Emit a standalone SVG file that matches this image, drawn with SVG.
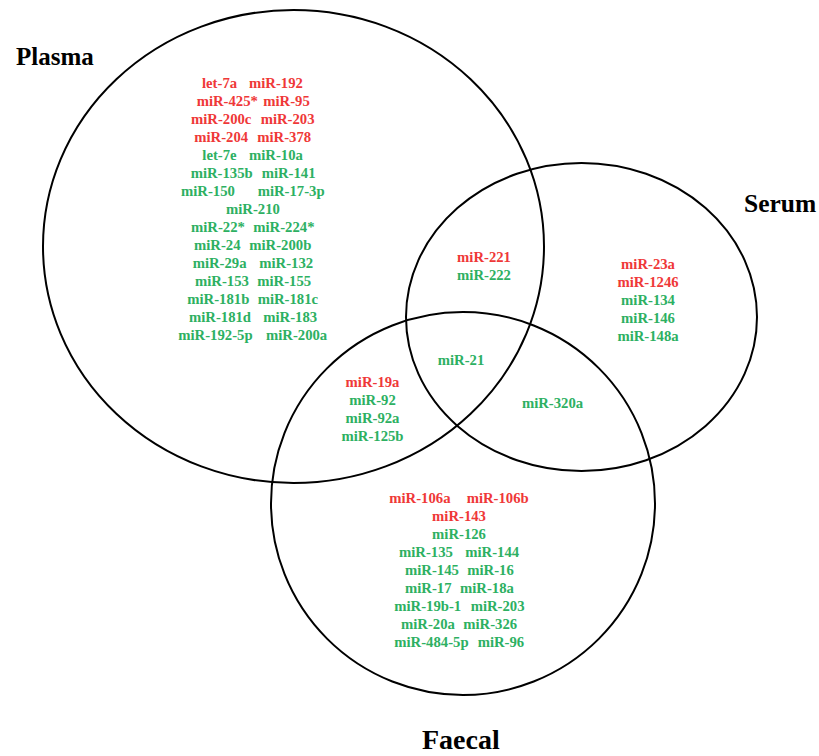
<svg xmlns="http://www.w3.org/2000/svg" width="819" height="756" viewBox="0 0 819 756">
<style>
.set{fill:none;stroke:#000;stroke-width:2}
.title{font-family:"Liberation Serif","Times New Roman",serif;font-weight:bold;fill:#000}
.t{font-family:"Liberation Serif","Times New Roman",serif;font-weight:bold;font-size:14.7px}
.r{fill:#EF3838}
.g{fill:#2DB062}
.m{text-anchor:middle}
</style>
<rect width="819" height="756" fill="#fff"/>
<g id="plasma">
<ellipse class="set" cx="293.5" cy="246.5" rx="250.5" ry="236.5"/>
<text class="title" x="16" y="65" font-size="25">Plasma</text>
<g class="t">
<text class="r" x="202" y="88">let-7a</text><text class="r" x="249" y="88">miR-192</text>
<text class="r" x="196.7" y="106">miR-425*</text><text class="r" x="263.3" y="106">miR-95</text>
<text class="r" x="191" y="124">miR-200c</text><text class="r" x="260.7" y="124">miR-203</text>
<text class="r" x="194.3" y="142">miR-204</text><text class="r" x="257.3" y="142">miR-378</text>
<text class="g" x="202.3" y="160">let-7e</text><text class="g" x="249" y="160">miR-10a</text>
<text class="g" x="190.7" y="178">miR-135b</text><text class="g" x="261.7" y="178">miR-141</text>
<text class="g" x="181" y="196">miR-150</text><text class="g" x="257.7" y="196">miR-17-3p</text>
<text class="g" x="226" y="214">miR-210</text>
<text class="g" x="191" y="232">miR-22*</text><text class="g" x="253.3" y="232">miR-224*</text>
<text class="g" x="194" y="250">miR-24</text><text class="g" x="249.3" y="250">miR-200b</text>
<text class="g" x="192.7" y="268">miR-29a</text><text class="g" x="259.3" y="268">miR-132</text>
<text class="g" x="195" y="286">miR-153</text><text class="g" x="257.3" y="286">miR-155</text>
<text class="g" x="187.3" y="304">miR-181b</text><text class="g" x="257.7" y="304">miR-181c</text>
<text class="g" x="189" y="322">miR-181d</text><text class="g" x="263.3" y="322">miR-183</text>
<text class="g" x="178.3" y="340">miR-192-5p</text><text class="g" x="266" y="340">miR-200a</text>
</g>
</g>
<g id="serum">
<ellipse class="set" cx="581.5" cy="317" rx="175.5" ry="154"/>
<text class="title" x="744" y="212" font-size="25.5">Serum</text>
<g class="t m">
<text class="r" x="648" y="269">miR-23a</text>
<text class="r" x="648" y="287">miR-1246</text>
<text class="g" x="648" y="305">miR-134</text>
<text class="g" x="648" y="323">miR-146</text>
<text class="g" x="648" y="341">miR-148a</text>
</g>
</g>
<g id="faecal">
<ellipse class="set" cx="463" cy="503.5" rx="192" ry="191.5"/>
<text class="title" x="422" y="749" font-size="28">Faecal</text>
<g class="t">
<text class="r" x="389.3" y="503">miR-106a</text><text class="r" x="466.7" y="503">miR-106b</text>
<text class="r m" x="459" y="521">miR-143</text>
<text class="g m" x="459" y="539">miR-126</text>
<text class="g" x="399" y="557">miR-135</text><text class="g" x="465.3" y="557">miR-144</text>
<text class="g" x="405" y="575">miR-145</text><text class="g" x="467.3" y="575">miR-16</text>
<text class="g" x="405" y="593">miR-17</text><text class="g" x="460" y="593">miR-18a</text>
<text class="g" x="394.3" y="611">miR-19b-1</text><text class="g" x="470.7" y="611">miR-203</text>
<text class="g" x="401" y="629">miR-20a</text><text class="g" x="463.3" y="629">miR-326</text>
<text class="g" x="394.3" y="647">miR-484-5p</text><text class="g" x="477.7" y="647">miR-96</text>
</g>
</g>
<g id="overlaps" class="t m">
<text class="r" x="484" y="262">miR-221</text>
<text class="g" x="484" y="280">miR-222</text>
<text class="g" x="461" y="365">miR-21</text>
<text class="r" x="372.5" y="387">miR-19a</text>
<text class="g" x="372.5" y="405">miR-92</text>
<text class="g" x="372.5" y="423">miR-92a</text>
<text class="g" x="372.5" y="441">miR-125b</text>
<text class="g" x="552.5" y="408">miR-320a</text>
</g>
</svg>
